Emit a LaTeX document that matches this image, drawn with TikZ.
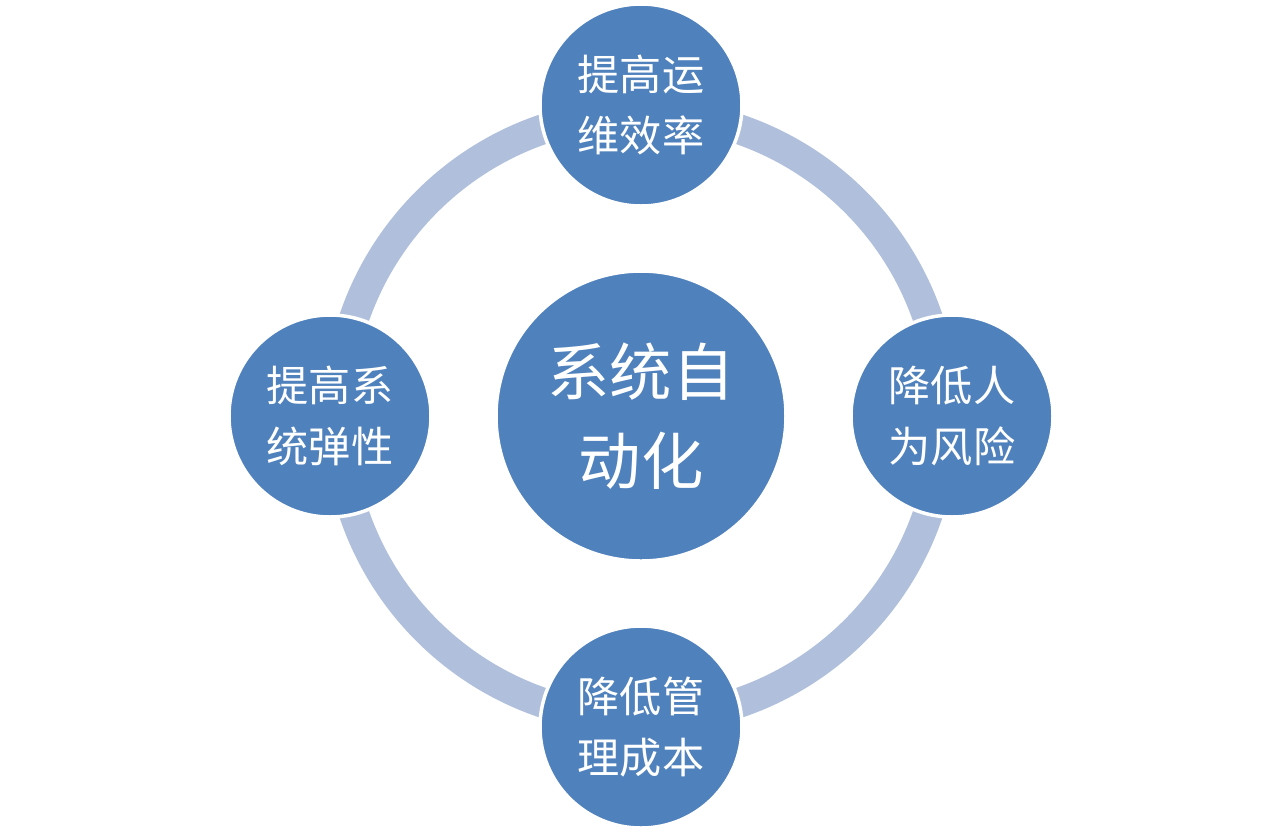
\documentclass[tikz,border=0pt]{standalone}
\usepackage{fontspec}
\newfontfamily\cjk{Noto Sans CJK SC}
\definecolor{ringblue}{HTML}{B0C0DC}
\definecolor{nodeblue}{HTML}{4F81BD}
\tikzset{
  goal/.style={circle, fill=nodeblue, draw=white, line width=0.07cm,
    minimum size=4.04cm, inner sep=0pt, text=white, align=center,
    font=\cjk\fontsize{24}{35}\selectfont},
  core/.style={goal, minimum size=5.8cm,
    font=\cjk\fontsize{35.5}{51}\selectfont}
}
\begin{document}
\begin{tikzpicture}
      \useasboundingbox (-12.82,-8.32) rectangle (12.82,8.32);
      \draw[ringblue, line width=0.6cm] (0,0) circle (6.06);
      \draw
        (0,0) node[core] (c){系统自\\动化}
        (90:6.22) node[goal] (0){提高运\\维效率}
        (0:6.22) node[goal] (1){降低人\\为风险}
        (270:6.22) node[goal] (2){降低管\\理成本}
        (180:6.22) node[goal] (3){提高系\\统弹性};
    \end{tikzpicture}
\end{document}
